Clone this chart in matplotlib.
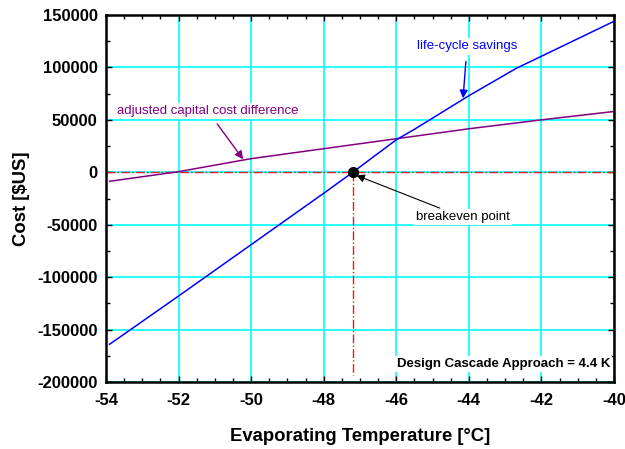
import numpy as np
import matplotlib.pyplot as plt

plt.rcParams["font.family"] = ["Liberation Sans", "DejaVu Sans"]
plt.rcParams["axes.unicode_minus"] = False

# evaporating temperature [C] vs cost [$US]
savings_temp = [-53.9, -52.0, -50.0, -48.0, -47.2, -46.0, -45.5, -44.0, -42.7, -40.0]
savings_cost = [-164000, -118000, -69000, -20000, 0, 31000, 41000, 73000, 99000, 144000]

capital_temp = [-53.9, -52.0, -50.0, -48.0, -46.0, -44.0, -42.0, -40.0]
capital_cost = [-8600, 600, 13000, 22500, 32000, 41500, 50000, 58000]

breakeven_temp = -47.2
breakeven_cost = 0

fig = plt.figure(figsize=(6.25, 4.49), dpi=100)
ax = fig.add_axes([0.1696, 0.1492, 0.8128, 0.8174])

ax.set_xlim(-54, -40)
ax.set_ylim(-200000, 150000)
ax.set_xticks(np.arange(-54, -39, 2))
ax.set_yticks(np.arange(-200000, 150001, 50000))
ax.set_xticks(np.arange(-54, -39.9, 0.5), minor=True)
ax.set_yticks(np.arange(-200000, 150001, 25000), minor=True)
ax.grid(True, which="major", color="#00ffff", lw=1.2, zorder=0)
ax.set_axisbelow(True)

ax.tick_params(which="both", direction="in", top=True, right=True,
               labelsize=12)
ax.tick_params(axis="x", pad=8)
ax.tick_params(axis="y", pad=6)
ax.tick_params(which="major", length=4, width=1)
ax.tick_params(which="minor", length=3, width=1)
for lab in ax.get_xticklabels() + ax.get_yticklabels():
    lab.set_fontweight("bold")
for sp in ax.spines.values():
    sp.set_linewidth(1.8)

# zero line and breakeven drop line
ax.plot([-54, -40], [0, 0], color="#e02020", lw=1, ls="-.", zorder=2)
ax.plot([breakeven_temp, breakeven_temp], [breakeven_cost, -193500],
        color="#e02020", lw=1, ls="-.", zorder=2)

ax.plot(capital_temp, capital_cost, color="#800080", lw=1.1, zorder=3)
ax.plot(savings_temp, savings_cost, color="#0000ff", lw=1.1, zorder=3)
ax.plot([breakeven_temp], [breakeven_cost], "o", color="black", ms=7, zorder=4)

box = dict(facecolor="white", edgecolor="none", pad=1.5)
ax.annotate("adjusted capital cost difference", xy=(-50.22, 12400),
            xytext=(-51.19, 58100), ha="center", va="center",
            color="#800080", fontsize=9.5, bbox=box,
            arrowprops=dict(arrowstyle="-|>", color="#800080", lw=1,
                            mutation_scale=12, shrinkA=4, shrinkB=0))
ax.annotate("life-cycle savings", xy=(-44.16, 70500),
            xytext=(-44.05, 120000), ha="center", va="center",
            color="#0000ff", fontsize=9.5, bbox=box,
            arrowprops=dict(arrowstyle="-|>", color="#0000ff", lw=1,
                            mutation_scale=12, shrinkA=5, shrinkB=0))
ax.annotate("breakeven point", xy=(-47.1, -2900),
            xytext=(-44.16, -42900), ha="center", va="center",
            color="black", fontsize=9.5, bbox=box,
            arrowprops=dict(arrowstyle="-|>", color="black", lw=0.8,
                            mutation_scale=12, shrinkA=2, shrinkB=0))

ax.text(-40.11, -183000, "Design Cascade Approach = 4.4 K", ha="right",
        va="center", fontsize=9.5, fontweight="bold", bbox=box)

ax.set_xlabel("Evaporating Temperature [°C]", fontsize=13.3, fontweight="bold",
              labelpad=14)
ax.set_ylabel("Cost [$US]", fontsize=13.3, fontweight="bold", labelpad=5)

fig.savefig("out.png", dpi=100)
